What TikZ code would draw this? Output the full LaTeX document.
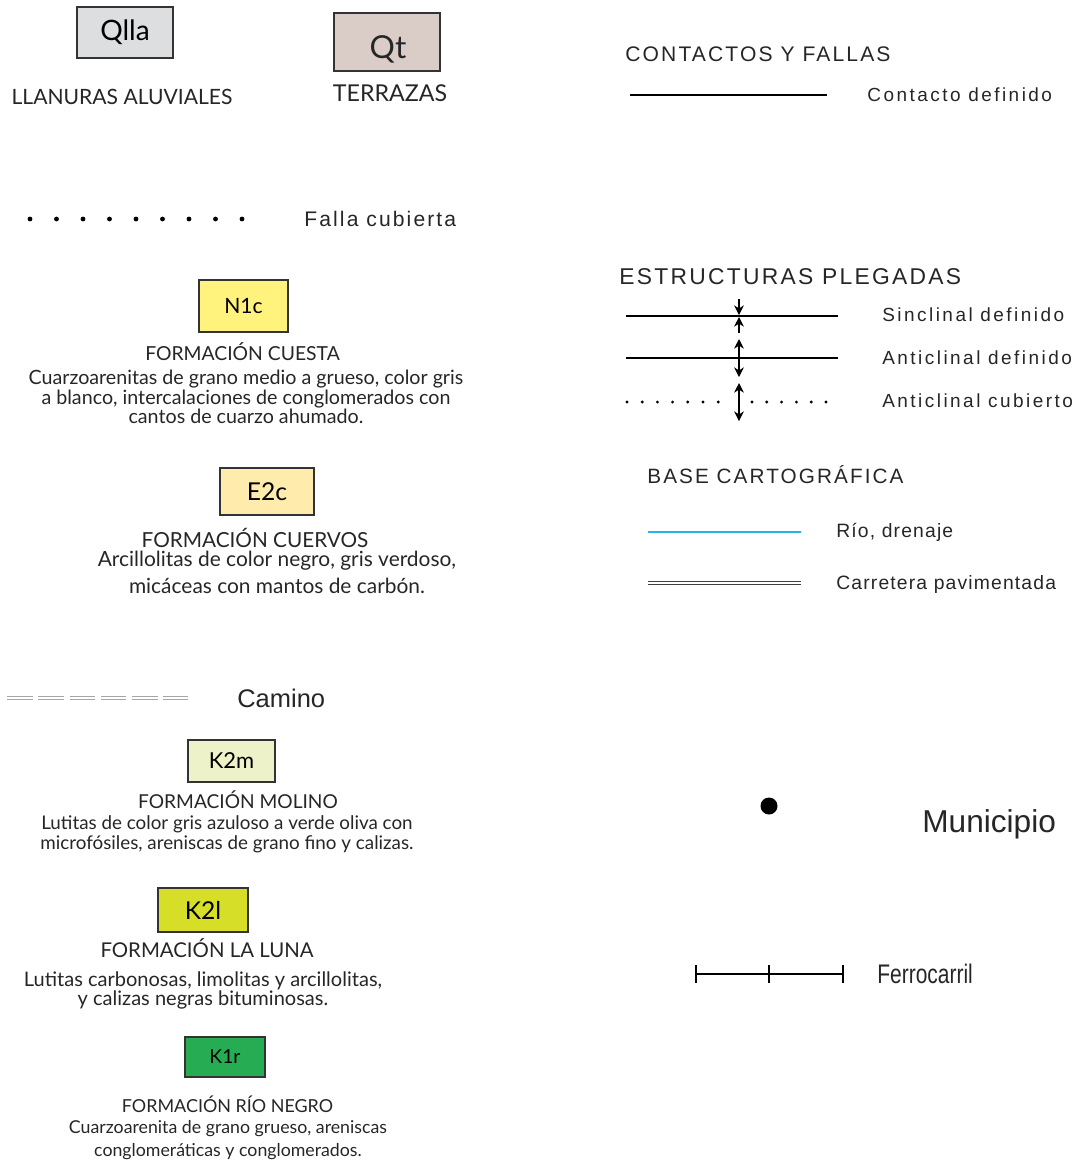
\documentclass[tikz,border=0pt]{standalone}
\usepackage{fontspec}
\setmainfont{Lato}
\newfontfamily\headfont[LetterSpace=10]{Liberation Sans}
\newfontfamily\symfont[LetterSpace=13]{Liberation Sans}
\newfontfamily\basefont[LetterSpace=6]{Liberation Sans}
\newfontfamily\plainfont{Liberation Sans}
\newfontfamily\narrowfont[FakeStretch=0.78]{Liberation Sans}
\usetikzlibrary{arrows.meta}

\definecolor{qllagray}{RGB}{221,222,224}
\definecolor{qtrose}{RGB}{218,205,200}
\definecolor{nyellow}{RGB}{255,243,125}
\definecolor{ecream}{RGB}{255,236,172}
\definecolor{kpale}{RGB}{238,242,200}
\definecolor{klime}{RGB}{214,222,40}
\definecolor{kgreen}{RGB}{38,172,82}
\definecolor{riocyan}{RGB}{40,180,230}

\tikzset{
  unitbox/.style={draw=black!80, line width=0.8pt, inner sep=0pt, font=\fontsize{13}{13}\selectfont},
  unitname/.style={inner sep=0pt, font=\fontsize{11}{12}\selectfont, text=black!85},
  unitdesc/.style={inner sep=0pt, align=center, font=\fontsize{11}{11}\selectfont, text=black!85},
  headline/.style={inner sep=0pt, anchor=west, font=\headfont\fontsize{12}{14}\selectfont, text=black!85},
  symlabel/.style={inner sep=0pt, anchor=west, font=\symfont\fontsize{10.8}{12}\selectfont, text=black!85},
  fold/.style={line width=0.6pt, {Stealth[length=5.5pt,width=5.5pt]}-{Stealth[length=5.5pt,width=5.5pt]}},
  sinc/.style={line width=0.6pt, -{Stealth[length=5.5pt,width=5.5pt]}},
}

\begin{document}
\begin{tikzpicture}[x=0.02cm, y=-0.02cm]
\useasboundingbox (0,0) rectangle (1090,1161);

% unidades cuaternarias
\node[unitbox, fill=qllagray, minimum width=1.92cm, minimum height=1.02cm, font=\fontsize{16}{16}\selectfont] (qlla) at (125,32.5) {Qlla};
\node[unitname, font=\fontsize{12}{14}\selectfont] (qllaname) at (122,97) {LLANURAS ALUVIALES};
\node[unitbox, fill=qtrose, minimum width=2.12cm, minimum height=1.16cm] (qt) at (387,42) {};
\node[inner sep=0pt, font=\fontsize{18}{18}\selectfont, text=black!85] (qtcode) at (388,49) {Qt};
\node[unitname, font=\fontsize{13.2}{14}\selectfont] (qtname) at (390,93) {TERRAZAS};

% falla cubierta
\foreach \i in {0,...,8}
  \fill (30+\i*26.5,219) circle (2.4);
\node[symlabel, font=\headfont\fontsize{12}{14}\selectfont] (falla) at (304,219) {Falla cubierta};

% formaciones
\node[unitbox, fill=nyellow, minimum width=1.78cm, minimum height=1.04cm, font=\fontsize{12}{12}\selectfont] (nic) at (243.5,306) {N1c};
\node[unitname] (nicname) at (242.5,352) {FORMACIÓN CUESTA};
\node[unitdesc, anchor=north, font=\fontsize{11.2}{11}\selectfont] (nicdesc) at (246,370) {Cuarzoarenitas de grano medio a grueso, color gris\\a blanco, intercalaciones de conglomerados con\\cantos de cuarzo ahumado.};

\node[unitbox, fill=ecream, minimum width=1.88cm, minimum height=0.94cm, font=\fontsize{14}{14}\selectfont] (etc) at (267,491.5) {E2c};
\node[unitname, font=\fontsize{11.8}{12}\selectfont] (etcname) at (255,538) {FORMACIÓN CUERVOS};
\node[unitdesc, anchor=north, font=\fontsize{11.9}{15.3}\selectfont] (etcdesc) at (277,551) {Arcillolitas de color negro, gris verdoso,\\micáceas con mantos de carbón.};

% camino
\draw[gray!70, line width=0.9pt, double=white, double distance=0.8pt, dash pattern=on 14.6pt off 3.2pt] (7,698) -- (188,698);
\node[symlabel, font=\plainfont\fontsize{14.5}{16}\selectfont] (camino) at (237,698) {Camino};

\node[unitbox, fill=kpale, minimum width=1.74cm, minimum height=0.84cm, font=\fontsize{12.5}{12}\selectfont] (kdm) at (231.5,761) {K2m};
\node[unitname, font=\fontsize{10.9}{12}\selectfont] (kdmname) at (238,800) {FORMACIÓN MOLINO};
\node[unitdesc, anchor=north, font=\fontsize{10.7}{11.3}\selectfont] (kdmdesc) at (227,815.5) {Lutitas de color gris azuloso a verde oliva con\\microfósiles, areniscas de grano fino y calizas.};

\node[unitbox, fill=klime, minimum width=1.8cm, minimum height=0.88cm, font=\fontsize{14}{14}\selectfont] (kdl) at (203,910) {K2l};
\node[unitname, font=\fontsize{11.6}{12}\selectfont] (kdlname) at (207,948) {FORMACIÓN LA LUNA};
\node[unitdesc, anchor=north, font=\fontsize{11.4}{11.3}\selectfont] (kdldesc) at (203,971) {Lutitas carbonosas, limolitas y arcillolitas,\\y calizas negras bituminosas.};

\node[unitbox, fill=kgreen, minimum width=1.6cm, minimum height=0.8cm, font=\fontsize{11}{11}\selectfont] (kir) at (225,1057) {K1r};
\node[unitname, font=\fontsize{10.2}{11}\selectfont] (kirname) at (227.5,1104) {FORMACIÓN RÍO NEGRO};
\node[unitdesc, anchor=north, font=\fontsize{10.1}{13}\selectfont] (kirdesc) at (228,1120) {Cuarzoarenita de grano grueso, areniscas\\conglomeráticas y conglomerados.};

% contactos y fallas
\node[headline] (contactos) at (625,54) {CONTACTOS Y FALLAS};
\coordinate (ca) at (630,95);
\coordinate (cb) at (827,95);
\draw[line width=0.6pt] (ca) -- (cb);
\node[symlabel] (contacto) at (867,95) {Contacto definido};

% estructuras plegadas
\node[headline, font=\headfont\fontsize{13}{15}\selectfont] (estructuras) at (619,277) {ESTRUCTURAS PLEGADAS};
\coordinate (sa) at (626,316);
\coordinate (sb) at (838,316);
\draw[line width=0.6pt] (sa) -- (sb);
\draw[sinc] (739,299) -- (739,315);
\draw[sinc] (739,333) -- (739,317);
\node[symlabel] (sinclinal) at (882,315) {Sinclinal definido};

\coordinate (aa) at (626,358);
\coordinate (ab) at (838,358);
\draw[line width=0.6pt] (aa) -- (ab);
\draw[fold] (739,339) -- (739,377);
\node[symlabel] (anticlinal) at (882,358) {Anticlinal definido};

\foreach \i in {0,...,6}
  \fill (627+\i*15.2,402) circle (1.6);
\foreach \i in {0,...,5}
  \fill (752+\i*14.8,402) circle (1.6);
\draw[fold] (739,383) -- (739,421);
\node[symlabel] (cubierto) at (882,401) {Anticlinal cubierto};

% base cartografica
\node[headline, font=\headfont\fontsize{11.8}{14}\selectfont] (base) at (647,475) {BASE CARTOGRÁFICA};
\coordinate (ra) at (648,532);
\coordinate (rb) at (801,532);
\draw[riocyan, line width=0.8pt] (ra) -- (rb);
\node[symlabel, font=\basefont\fontsize{11}{13}\selectfont] (rio) at (836,532) {Río, drenaje};

\coordinate (pa) at (648,583);
\coordinate (pb) at (801,583);
\draw[black!75, line width=0.8pt, double=white, double distance=0.9pt] (pa) -- (pb);
\node[symlabel, font=\basefont\fontsize{11}{13}\selectfont] (carretera) at (836,584) {Carretera pavimentada};

% municipio
\fill (769,806) circle (8.5);
\node[inner sep=0pt, anchor=west, font=\plainfont\fontsize{18}{20}\selectfont, text=black!85] (municipio) at (922,824) {Municipio};

% ferrocarril
\coordinate (fa) at (696,974);
\coordinate (fm) at (769,974);
\coordinate (fb) at (843,974);
\draw[line width=0.7pt] (fa) -- (fb);
\foreach \p in {fa,fm,fb}
  \draw[line width=0.7pt] ([yshift=9*0.02cm]\p) -- ([yshift=-9*0.02cm]\p);
\node[inner sep=0pt, anchor=west, font=\narrowfont\fontsize{15.3}{17}\selectfont, text=black!85] (ferrocarril) at (877,974) {Ferrocarril};

\end{tikzpicture}
\end{document}
